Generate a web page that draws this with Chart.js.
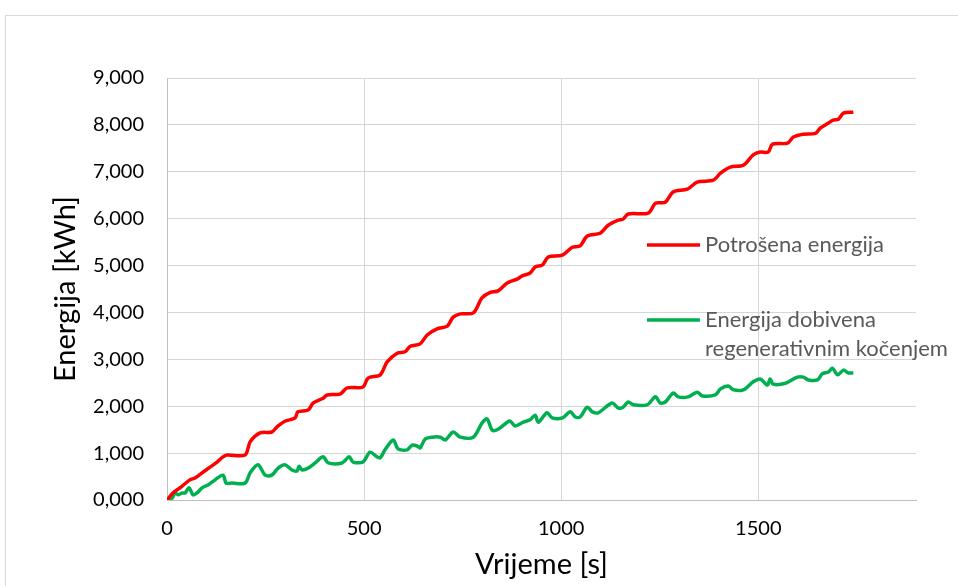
<!DOCTYPE html>
<html>
<head>
<meta charset="utf-8">
<script src="https://cdn.jsdelivr.net/npm/chart.js@4.4.1/dist/chart.umd.min.js"></script>
<style>
  body { margin: 0; background: #fff; }
  #wrap { position: relative; width: 958px; height: 586px; overflow: hidden; }
  #frame { position: absolute; left: 5px; top: 15px; width: 1000px; height: 700px; border: 1px solid #d9d9d9; }
  canvas { position: absolute; left: 0; top: 0; }
</style>
</head>
<body>
<div id="wrap">
  <div id="frame"></div>
  <canvas id="chart" width="958" height="586"></canvas>
</div>
<script>
// time [s] and energy [kWh]
const redTime = [0, 15, 33, 58, 71, 89, 109, 127, 142, 152, 198, 211, 236, 266, 279, 299, 325, 332, 358, 371,
  396, 406, 439, 457, 497, 510, 541, 558, 584, 604, 617, 642, 660, 685, 711, 726, 744, 777, 799, 820,
  840, 863, 888, 901, 921, 934, 952, 967, 1003, 1028, 1048, 1066, 1099, 1119, 1145, 1157, 1170, 1221, 1239, 1264,
  1284, 1320, 1345, 1386, 1404, 1429, 1462, 1487, 1505, 1525, 1536, 1574, 1589, 1614, 1645, 1657, 1678, 1690, 1703, 1716, 1741];
const redEnergy = [0, 0.15, 0.26, 0.43, 0.47, 0.58, 0.70, 0.81, 0.92, 0.96, 0.96, 1.24, 1.43, 1.45, 1.56, 1.68, 1.75, 1.88, 1.92, 2.07,
  2.17, 2.24, 2.26, 2.39, 2.41, 2.60, 2.67, 2.94, 3.13, 3.16, 3.28, 3.33, 3.52, 3.65, 3.71, 3.90, 3.97, 3.99, 4.31, 4.43,
  4.46, 4.63, 4.71, 4.78, 4.84, 4.97, 5.01, 5.18, 5.22, 5.39, 5.42, 5.63, 5.69, 5.86, 5.97, 5.99, 6.10, 6.12, 6.33, 6.35,
  6.57, 6.63, 6.78, 6.82, 6.97, 7.10, 7.14, 7.36, 7.42, 7.42, 7.59, 7.61, 7.74, 7.80, 7.82, 7.93, 8.04, 8.10, 8.12, 8.25, 8.27];

const greenTime = [0, 13, 20, 28, 38, 46, 56, 66, 76, 89, 104, 122, 142, 150, 165, 198, 211, 231, 249, 266,
  282, 299, 317, 330, 335, 343, 358, 376, 396, 409, 444, 462, 472, 497, 515, 533, 541, 553, 574, 586,
  609, 622, 635, 642, 655, 673, 693, 706, 726, 744, 777, 799, 812, 825, 840, 863, 871, 883, 904, 921,
  934, 942, 964, 977, 1003, 1023, 1036, 1048, 1066, 1079, 1094, 1129, 1145, 1157, 1170, 1183, 1218, 1239, 1251, 1264,
  1284, 1297, 1322, 1345, 1358, 1391, 1404, 1424, 1437, 1462, 1487, 1505, 1523, 1530, 1538, 1569, 1599, 1614, 1627, 1650,
  1662, 1678, 1688, 1701, 1716, 1728, 1741];
const greenEnergy = [0, 0.04, 0.15, 0.11, 0.15, 0.15, 0.26, 0.11, 0.15, 0.26, 0.32, 0.43, 0.53, 0.36, 0.36, 0.36, 0.58, 0.75, 0.53, 0.53,
  0.68, 0.75, 0.64, 0.62, 0.72, 0.64, 0.68, 0.79, 0.92, 0.79, 0.79, 0.92, 0.81, 0.81, 1.02, 0.92, 0.90, 1.07, 1.28, 1.09,
  1.07, 1.17, 1.15, 1.11, 1.30, 1.34, 1.34, 1.28, 1.45, 1.34, 1.34, 1.64, 1.73, 1.49, 1.51, 1.66, 1.68, 1.58, 1.66, 1.71,
  1.81, 1.66, 1.86, 1.75, 1.75, 1.88, 1.77, 1.77, 1.98, 1.88, 1.86, 2.07, 1.96, 1.98, 2.09, 2.03, 2.03, 2.20, 2.07, 2.09,
  2.28, 2.20, 2.20, 2.30, 2.22, 2.24, 2.37, 2.43, 2.35, 2.35, 2.52, 2.58, 2.45, 2.58, 2.47, 2.49, 2.62, 2.62, 2.56, 2.56,
  2.69, 2.73, 2.81, 2.67, 2.77, 2.71, 2.71];

const seriesNames = ['Potrošena energija', 'Energija dobivena regenerativnim kočenjem'];
const xTicks = [0, 500, 1000, 1500];

const font = 'Lato, "Open Sans", sans-serif';

const legendBox = {
  id: 'legendBox',
  afterDraw(chart) {
    const ctx = chart.ctx;
    const rows = [
      { i: 0, y: 245, lines: ['Potrošena energija'] },
      { i: 1, y: 320, lines: ['Energija dobivena', 'regenerativnim kočenjem'] }
    ];
    ctx.save();
    ctx.font = '22px ' + font;
    ctx.textBaseline = 'middle';
    ctx.textAlign = 'left';
    rows.forEach(r => {
      const ds = chart.data.datasets[r.i];
      ctx.strokeStyle = ds.borderColor;
      ctx.lineWidth = 3.5;
      ctx.beginPath();
      ctx.moveTo(647, r.y);
      ctx.lineTo(700, r.y);
      ctx.stroke();
      ctx.fillStyle = '#595959';
      r.lines.forEach((t, k) => ctx.fillText(t, 705, r.y + k * 29));
    });
    ctx.restore();
  }
};

new Chart(document.getElementById('chart'), {
  type: 'line',
  data: {
    datasets: [
      {
        label: seriesNames[0],
        data: redTime.map((t, i) => ({ x: t, y: redEnergy[i] })),
        borderColor: '#ff0000',
        borderWidth: 3.5,
        pointRadius: 0,
        tension: 0.3,
        fill: false
      },
      {
        label: seriesNames[1],
        data: greenTime.map((t, i) => ({ x: t, y: greenEnergy[i] })),
        borderColor: '#00b050',
        borderWidth: 3.5,
        pointRadius: 0,
        tension: 0.3,
        fill: false
      }
    ]
  },
  options: {
    responsive: false,
    animation: false,
    layout: { padding: { left: 0, top: 78, right: 42, bottom: 0 } },
    plugins: {
      legend: { display: false },
      tooltip: { enabled: false }
    },
    scales: {
      x: {
        type: 'linear',
        min: 0,
        max: 1900,
        afterBuildTicks: axis => { axis.ticks = xTicks.map(v => ({ value: v })); },
        afterFit: s => { s.height = 86; },
        ticks: {
          font: { family: font, size: 20 },
          color: '#000',
          padding: 17,
          maxRotation: 0,
          callback: v => String(v)
        },
        grid: { color: '#d6d6d6', lineWidth: 1, drawTicks: false },
        border: { color: '#bfbfbf', width: 1 },
        title: { display: true, text: 'Vrijeme [s]', font: { family: font, size: 29 }, color: '#000', padding: { top: 4 } }
      },
      y: {
        min: 0,
        max: 9,
        afterFit: s => { s.width = 167; },
        ticks: {
          stepSize: 1,
          font: { family: font, size: 20 },
          color: '#000',
          padding: 23,
          callback: v => v.toFixed(3).replace('.', ',')
        },
        grid: { color: '#d6d6d6', lineWidth: 1, drawTicks: false },
        border: { color: '#bfbfbf', width: 1 },
        title: { display: true, text: 'Energija [kWh]', font: { family: font, size: 29 }, color: '#000', padding: { top: 48 } }
      }
    }
  },
  plugins: [legendBox]
});
</script>
</body>
</html>
